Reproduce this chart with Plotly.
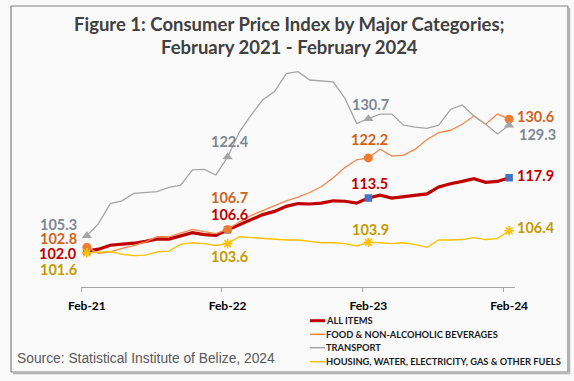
import plotly.graph_objects as go
import pandas as pd

# ---------------- data ----------------
months = [d.strftime("%b-%y") for d in pd.date_range("2021-02-01", "2024-02-01", freq="MS")]
tick_labels = ["Feb-21", "Feb-22", "Feb-23", "Feb-24"]

all_items = [102.0, 102.4, 103.25, 103.4, 103.7, 104.1, 104.65, 104.6, 105.3, 106.0, 105.55, 105.4,
             106.6, 107.7, 108.8, 109.9, 110.6, 111.7, 112.3, 112.2, 112.4, 112.9, 112.8, 112.4,
             113.5, 114.1, 113.5, 113.8, 114.1, 114.4, 115.9, 116.6, 117.1, 117.7, 116.9, 117.1,
             117.9]
food = [102.8, 101.5, 101.8, 102.6, 103.2, 104.0, 105.1, 105.1, 105.9, 106.7, 106.2, 105.8,
        106.7, 108.3, 109.7, 110.8, 111.9, 112.9, 113.7, 114.7, 116.0, 117.9, 120.1, 121.8,
        122.2, 124.1, 122.6, 122.8, 124.1, 126.2, 127.7, 128.2, 129.5, 131.3, 129.5, 131.7,
        130.6]
transport = [105.3, 108.0, 112.3, 112.9, 114.5, 114.7, 114.9, 115.8, 116.3, 119.6, 119.7, 118.5,
             122.4, 127.8, 131.5, 134.8, 136.6, 140.5, 140.9, 139.1, 138.9, 138.7, 135.1, 129.7,
             130.7, 131.7, 131.7, 129.3, 128.9, 128.6, 129.3, 132.7, 133.7, 131.3, 129.5, 127.4,
             129.3]
housing = [101.6, 101.8, 101.9, 101.3, 101.0, 101.1, 101.8, 102.0, 103.5, 103.8, 103.6, 103.2,
           103.6, 105.1, 104.9, 104.8, 104.6, 104.4, 104.4, 104.1, 103.8, 103.8, 103.6, 103.1,
           103.9, 103.8, 103.6, 103.8, 103.4, 102.8, 104.4, 104.4, 104.5, 104.9, 104.5, 104.7,
           106.4]

series_names = ["ALL ITEMS", "FOOD & NON-ALCOHOLIC BEVERAGES", "TRANSPORT",
                "HOUSING, WATER, ELECTRICITY, GAS & OTHER FUELS"]
series_values = [all_items, food, transport, housing]
title_lines = ["Figure 1: Consumer Price Index by Major Categories;", "February 2021 - February 2024"]
source_text = "Source: Statistical Institute of Belize, 2024"

# ---------------- styles ----------------
W, H = 574, 381
ML, MR, MT, MB = 81, 59, 66, 94
PW, PH = W - ML - MR, H - MT - MB

styles = [
    dict(line="#C00000", width=3.2, symbol="square", mcolor="#4472C4", msize=7.5, label="#C00000"),
    dict(line="#F4874B", width=1.3, symbol="circle", mcolor="#ED7D31", msize=9, label="#D0641C"),
    dict(line="#A5A5A5", width=1.3, symbol="triangle-up", mcolor="#A5A5A5", msize=9, label="#7D8796"),
    dict(line="#FFC000", width=1.3, symbol="asterisk-open", mcolor="#FFC000", msize=8, label="#C49A00"),
]
# label offsets (xshift, yshift, xanchor) per series at each key month
label_offsets = [
    [(-10, -2.5, "right"), (2, 15, "center"), (1, 15, "center"), (8, 2, "left")],
    [(-10, 8.5, "right"), (2, 31.5, "center"), (1, 18, "center"), (8, 3, "left")],
    [(-10, 11.5, "right"), (2, 16, "center"), (2, 14, "center"), (10, -9, "left")],
    [(-10, -16.5, "right"), (2, -13, "center"), (2, 13, "center"), (8, 3, "left")],
]

FONT = "Lato"
x = list(range(len(months)))
key_idx = [months.index(t) for t in tick_labels]


def px2paper(px, py):
    return (px - ML) / PW, (H - MB - py) / PH


fig = go.Figure()

for name, vals, st in zip(series_names, series_values, styles):
    fig.add_trace(go.Scatter(
        x=x, y=vals, mode="lines", name=name, showlegend=False,
        line=dict(color=st["line"], width=st["width"]), hoverinfo="skip"))

for name, vals, st in zip(series_names, series_values, styles):
    mk = dict(symbol=st["symbol"], size=st["msize"], color=st["mcolor"])
    if st["symbol"].startswith("asterisk"):
        mk["line"] = dict(color=st["mcolor"], width=1.6)
    else:
        mk["line"] = dict(width=0)
    fig.add_trace(go.Scatter(
        x=[x[i] for i in key_idx], y=[vals[i] for i in key_idx], mode="markers",
        name=name, showlegend=False, marker=mk, cliponaxis=False, hoverinfo="skip"))

annotations = []
for vals, st, offs in zip(series_values, styles, label_offsets):
    for i, (dx, dy, anc) in zip(key_idx, offs):
        annotations.append(dict(
            x=x[i], y=vals[i], xref="x", yref="y", text=f"{vals[i]:.1f}", showarrow=False,
            xshift=dx, yshift=dy, xanchor=anc, yanchor="middle", borderpad=0, borderwidth=0,
            height=13, valign="middle",
            font=dict(family=FONT, size=14.5, color=st["label"], weight="bold")))

# title (two lines)
for line_text, ly_px in zip(title_lines, [24, 47]):
    tx, ty = px2paper(289, ly_px)
    annotations.append(dict(x=tx, y=ty, xref="paper", yref="paper", text=line_text,
                            showarrow=False, xanchor="center", yanchor="middle", borderpad=0,
                            font=dict(family=FONT, size=18.5, color="#404040", weight="bold")))

# legend (manual, compact like the original)
legend_rows = [320.7, 334.3, 347.7, 361.7]
shapes = []
for name, st, ry in zip(series_names, styles, legend_rows):
    x0, y0 = px2paper(310, ry)
    x1, _ = px2paper(325, ry)
    shapes.append(dict(type="line", xref="paper", yref="paper", x0=x0, x1=x1, y0=y0, y1=y0,
                       line=dict(color=st["line"], width=3 if st["width"] > 2 else 1.5)))
    lx, ly = px2paper(325, ry)
    annotations.append(dict(x=lx, y=ly, xref="paper", yref="paper", text=name, showarrow=False,
                            xanchor="left", yanchor="middle", borderpad=0,
                            font=dict(family=FONT, size=9.3, color="#1a1a1a", weight="bold")))

# source
sx, sy = px2paper(15, 358)
annotations.append(dict(x=sx, y=sy, xref="paper", yref="paper",
                        text=source_text, showarrow=False,
                        xanchor="left", yanchor="middle",
                        font=dict(family="Liberation Sans", size=13.8, color="#595959")))

# frame with shadow
frame_edges = [((11, 6), (568, 6)), ((11, 6), (11, 372)), ((568, 6), (568, 372)), ((11, 372), (568, 372))]
for (ax_, ay_), (bx_, by_) in frame_edges:
    p0 = px2paper(ax_, ay_)
    p1 = px2paper(bx_, by_)
    shapes.append(dict(type="line", xref="paper", yref="paper", x0=p0[0], y0=p0[1], x1=p1[0], y1=p1[1],
                       line=dict(color="#7f7f7f", width=1.2), layer="above"))
shadow_edges = [((569.5, 8), (569.5, 374)), ((13, 373.5), (570, 373.5))]
for (ax_, ay_), (bx_, by_) in shadow_edges:
    p0 = px2paper(ax_, ay_)
    p1 = px2paper(bx_, by_)
    shapes.append(dict(type="line", xref="paper", yref="paper", x0=p0[0], y0=p0[1], x1=p1[0], y1=p1[1],
                       line=dict(color="#b0b0b0", width=1.5), layer="above"))

fig.update_layout(
    width=W, height=H,
    margin=dict(l=ML, r=MR, t=MT, b=MB, autoexpand=False),
    paper_bgcolor="#fafafa", plot_bgcolor="#fafafa",
    xaxis=dict(range=[-0.5, len(months) - 0.5], showgrid=False, zeroline=False,
               showline=True, linecolor="#A6A6A6", linewidth=1,
               tickmode="array", tickvals=key_idx, ticktext=tick_labels,
               ticks="outside", ticklen=8, tickcolor="rgba(0,0,0,0)",
               tickfont=dict(family=FONT, size=12, color="#000000", weight="bold"),
               minor=dict(tickmode="array", tickvals=[k - 0.5 for k in key_idx],
                          ticks="outside", ticklen=4, tickcolor="#A6A6A6", tickwidth=1,
                          showgrid=False)),
    yaxis=dict(range=[94.2, 94.2 + PH / 4.61], visible=False, showgrid=False),
    annotations=annotations, shapes=shapes,
    showlegend=False, hovermode=False,
)

fig.write_html("out.html", config={"displayModeBar": False, "staticPlot": True},
               post_script="document.body.style.margin='0';document.body.style.background='#fafafa';")
